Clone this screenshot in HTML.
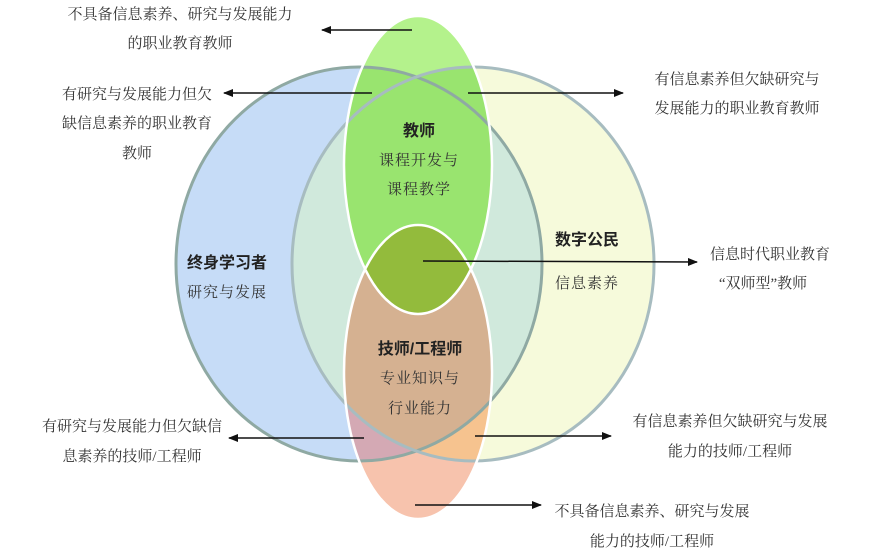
<!DOCTYPE html>
<html><head><meta charset="utf-8"><style>
html,body{margin:0;padding:0;background:#fff;}
svg{display:block;}
text{font-family:"Liberation Serif","Noto Serif CJK SC",serif;fill:#333;font-size:15px;}
.b{font-family:"Liberation Sans","Noto Sans CJK SC",sans-serif;font-weight:bold;font-size:16px;fill:#222;}
.m{font-size:15px;fill:#333;letter-spacing:1px;}
</style></head><body>
<svg width="870" height="551" viewBox="0 0 870 551" xmlns="http://www.w3.org/2000/svg">
<defs>
<clipPath id="cb"><ellipse cx="359" cy="264" rx="183" ry="197"/></clipPath>
<clipPath id="cy"><ellipse cx="473" cy="264" rx="181" ry="197"/></clipPath>
<clipPath id="cg"><ellipse cx="418" cy="165" rx="74" ry="149"/></clipPath>
<marker id="ar" markerWidth="10" markerHeight="8" refX="9" refY="4" orient="auto" markerUnits="userSpaceOnUse">
<path d="M0,0 L10,4 L0,8 Z" fill="#111"/></marker>
</defs>
<!-- circles -->
<ellipse cx="359" cy="264" rx="183" ry="197" fill="#c6dcf7"/>
<ellipse cx="473" cy="264" rx="181" ry="197" fill="#f6fadb"/>
<ellipse cx="473" cy="264" rx="181" ry="197" fill="#d0e9dc" clip-path="url(#cb)"/>
<!-- green ellipse -->
<ellipse cx="418" cy="165" rx="74" ry="149" fill="#b4f28c"/>
<ellipse cx="418" cy="165" rx="74" ry="149" fill="#99e46f" clip-path="url(#cb)"/>
<ellipse cx="418" cy="165" rx="74" ry="149" fill="#99e46f" clip-path="url(#cy)"/>
<!-- orange ellipse -->
<ellipse cx="418" cy="372" rx="74" ry="147" fill="#f7c3ad"/>
<ellipse cx="418" cy="372" rx="74" ry="147" fill="#d4a9b4" clip-path="url(#cb)"/>
<ellipse cx="418" cy="372" rx="74" ry="147" fill="#f6c38f" clip-path="url(#cy)"/>
<g clip-path="url(#cb)"><ellipse cx="418" cy="372" rx="74" ry="147" fill="#d5b191" clip-path="url(#cy)"/></g>
<ellipse cx="418" cy="372" rx="74" ry="147" fill="#93bb3c" clip-path="url(#cg)"/>
<!-- outlines -->
<ellipse cx="359" cy="264" rx="183" ry="197" fill="none" stroke="#8fa9a3" stroke-width="3"/>
<ellipse cx="473" cy="264" rx="181" ry="197" fill="none" stroke="#a7bcc0" stroke-width="3"/>
<ellipse cx="418" cy="165" rx="74" ry="149" fill="none" stroke="#fff" stroke-width="2.5"/>
<ellipse cx="418" cy="372" rx="74" ry="147" fill="none" stroke="#fff" stroke-width="2.5"/>
<!-- arrows -->
<g stroke="#111" stroke-width="1.5" marker-end="url(#ar)">
<line x1="412" y1="30" x2="322" y2="30"/>
<line x1="372" y1="93" x2="224" y2="93"/>
<line x1="468" y1="93" x2="623" y2="93"/>
<line x1="423" y1="261" x2="697" y2="262"/>
<line x1="364" y1="438" x2="229" y2="438"/>
<line x1="475" y1="436" x2="611" y2="436"/>
<line x1="415" y1="505" x2="541" y2="505"/>
</g>
<!-- inner labels -->
<g text-anchor="middle">
<text class="b" x="419" y="136">教师</text>
<text class="m" x="419" y="165">课程开发与</text>
<text class="m" x="419" y="194">课程教学</text>
<text class="b" x="227" y="268">终身学习者</text>
<text class="m" x="227" y="297">研究与发展</text>
<text class="b" x="587" y="245">数字公民</text>
<text class="m" x="587" y="288">信息素养</text>
<text class="b" x="420" y="354">技师/工程师</text>
<text class="m" x="420" y="383">专业知识与</text>
<text class="m" x="420" y="413">行业能力</text>
<!-- outer -->
<text x="180" y="19">不具备信息素养、研究与发展能力</text>
<text x="180" y="48">的职业教育教师</text>
<text x="137" y="99">有研究与发展能力但欠</text>
<text x="137" y="128">缺信息素养的职业教育</text>
<text x="137" y="158">教师</text>
<text x="737" y="84">有信息素养但欠缺研究与</text>
<text x="737" y="113">发展能力的职业教育教师</text>
<text x="770" y="259">信息时代职业教育</text>
<text x="763" y="288">“双师型”教师</text>
<text x="132" y="431">有研究与发展能力但欠缺信</text>
<text x="132" y="461">息素养的技师/工程师</text>
<text x="730" y="426">有信息素养但欠缺研究与发展</text>
<text x="730" y="456">能力的技师/工程师</text>
<text x="652" y="516">不具备信息素养、研究与发展</text>
<text x="652" y="546">能力的技师/工程师</text>
</g>
</svg>
</body></html>
